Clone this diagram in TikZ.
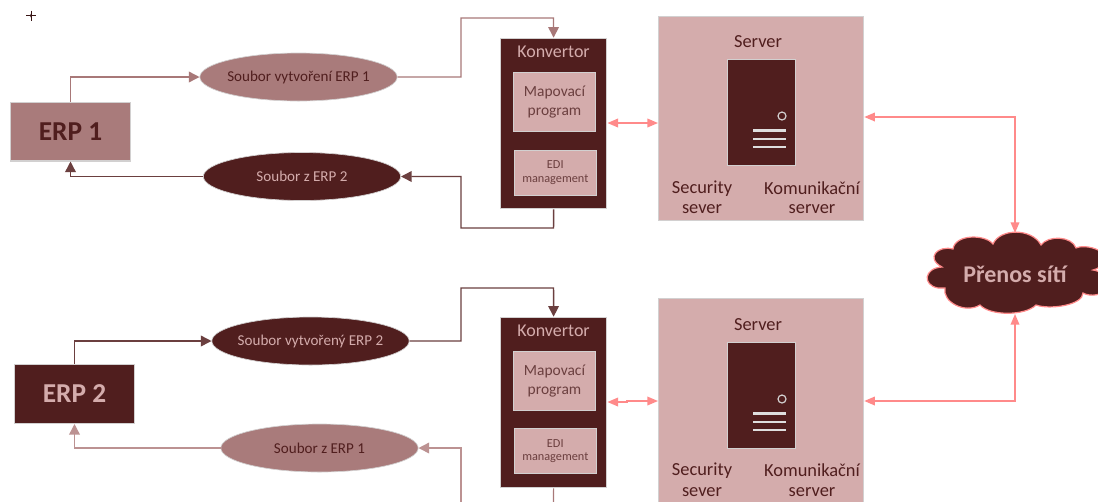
\documentclass[tikz,border=0pt]{standalone}
\usepackage{fontspec}
\setmainfont{Carlito}
\usetikzlibrary{arrows.meta,shapes.geometric}
\definecolor{dark}{HTML}{501E1E}
\definecolor{mid}{HTML}{A97B7B}
\definecolor{pale}{HTML}{D4ACAC}
\definecolor{edge}{HTML}{D2D0D0}
\definecolor{linkdark}{HTML}{6B3F3F}
\definecolor{linkmid}{HTML}{A87878}
\definecolor{linklight}{HTML}{BC9292}
\definecolor{pink}{HTML}{FF8A8A}
\tikzset{
  px/.style={x=0.75pt,y=-0.75pt},
  erpbox/.style={draw=edge,line width=1pt,rectangle,inner sep=0pt,minimum width=90pt,minimum height=44pt,font=\fontsize{20.5}{22}\selectfont\bfseries},
  fileell/.style={ellipse,draw=edge,line width=0.5pt,inner xsep=-30pt,inner ysep=0pt,minimum width=148pt,minimum height=36pt,font=\fontsize{11.3}{13}\selectfont},
  conv/.style={rectangle,fill=dark,draw=edge,line width=0.7pt,inner sep=0pt,minimum width=80pt},
  inner/.style={rectangle,fill=pale,draw=edge,line width=0.7pt,text=linkdark,inner sep=0pt,align=center},
  srv/.style={rectangle,fill=pale,draw=edge,line width=0.7pt,inner sep=0pt,minimum width=154pt},
  tower/.style={rectangle,fill=dark,draw=edge,line width=0.5pt,inner sep=0pt,minimum width=50.5pt},
  srvtxt/.style={text=dark,font=\fontsize{13.8}{15}\selectfont,inner sep=0pt,align=center},
  convtxt/.style={text=pale,font=\fontsize{13.5}{15}\selectfont,inner sep=0pt},
  maptxt/.style={font=\fontsize{11.6}{14}\selectfont},
  editxt/.style={font=\fontsize{9.2}{10}\selectfont},
  link/.style={line width=1.1pt,-{Triangle[length=8pt,width=8pt]}},
  biarrow/.style={pink,line width=1.1pt,{Triangle[length=8pt,width=6.5pt]}-{Triangle[length=8pt,width=6.5pt]}},
  led/.style={circle,draw=edge,line width=0.9pt,fill=dark,inner sep=0pt,minimum size=6pt},
  slot/.style={draw=edge!70!white,line width=2pt}
}
\begin{document}
\begin{tikzpicture}[px]
\useasboundingbox (0,0) rectangle (1098,501);
\clip (0,0) rectangle (1098,501);
\fill[white] (0,0) rectangle (1098,501);
% cursor mark
\draw[dark!70!black,line width=0.4pt] (26,15.5)--(36,15.5) (31,10.5)--(31,20.5);
\fill[dark!70!black] (31,13.5)--(32,15.5)--(31,17.5)--(30,15.5)--cycle;
% top row
\node[erpbox,fill=mid,text=dark] (erpa) at (70.5,131.5) {ERP 1};
\node[fileell,fill=mid,text=dark] (fa) at (298.5,77) {Soubor vytvoření ERP 1};
\node[fileell,fill=dark,text=pale] (fb) at (302,176.5) {Soubor z ERP 2};
\node[conv,minimum height=128pt,anchor=north west] (ka) at (499.8,37.7) {};
\node[convtxt] (kat) at (553.5,52) {Konvertor};
\node[inner,minimum width=62pt,minimum height=44pt,maptxt,anchor=north west] (ma) at (512.7,72) {Mapovací\\program};
\node[inner,minimum width=62pt,minimum height=34pt,editxt,anchor=north west] (ea) at (513.5,149.5) {EDI\\management};
\node[srv,minimum height=153pt,anchor=north west] (sa) at (658,15.7) {};
\node[srvtxt] (sat) at (758,41.5) {Server};
\node[tower,minimum height=79pt,anchor=north west] (ta) at (727.3,59.3) {};
\node[led] (la) at (782,116) {};
\draw[slot] (753,130.5)--(786,130.5) (753,139)--(786,139) (753,147)--(786,147);
\node[srvtxt] (saa) at (702,188.5) {Security};
\node[srvtxt] (sab) at (702,209) {sever};
\node[srvtxt] (sac) at (812,188.5) {Komunikační};
\node[srvtxt] (sad) at (812,209) {server};
% bottom row
\node[erpbox,fill=dark,text=pale] (erpb) at (74.5,394) {ERP 2};
\node[fileell,fill=dark,text=pale] (fc) at (310.5,341) {Soubor vytvořený ERP 2};
\node[fileell,fill=mid,text=dark] (fd) at (319.5,448) {Soubor z ERP 1};
\node[conv,minimum height=128pt,anchor=north west] (kb) at (499.8,316.7) {};
\node[convtxt] (kbt) at (553.5,331) {Konvertor};
\node[inner,minimum width=62pt,minimum height=44pt,maptxt,anchor=north west] (mb) at (512.7,351) {Mapovací\\program};
\node[inner,minimum width=62pt,minimum height=34pt,editxt,anchor=north west] (eb) at (513.5,428) {EDI\\management};
\node[srv,minimum height=160pt,anchor=north west] (sb) at (658,298.3) {};
\node[srvtxt] (sbt) at (758,324.5) {Server};
\node[tower,minimum height=80pt,anchor=north west] (tb) at (727.3,341.7) {};
\node[led] (lb) at (782,399) {};
\draw[slot] (753,413.5)--(786,413.5) (753,422)--(786,422) (753,430)--(786,430);
\node[srvtxt] (sba) at (702,470.5) {Security};
\node[srvtxt] (sbb) at (702,492.5) {sever};
\node[srvtxt] (sbc) at (812,470.5) {Komunikační};
\node[srvtxt] (sbd) at (812,492.5) {server};
% cloud
\fill[dark,draw=pink,line width=0.9pt]
 (942,267)
 .. controls (924,268) and (922,285) .. (938,288)
 -- (945,288)
 .. controls (942,302) and (965,314) .. (980,305)
 .. controls (990,316) and (1025,316) .. (1036,305)
 .. controls (1050,310) and (1083,305) .. (1083,293)
 .. controls (1090,297) and (1105,296) .. (1108,285)
 .. controls (1110,276) and (1100,271) .. (1093,270)
 .. controls (1105,268) and (1108,252) .. (1098,250)
 .. controls (1090,246) and (1080,246) .. (1076,248)
 .. controls (1072,236) and (1048,235) .. (1041,245)
 .. controls (1032,228) and (1000,228) .. (993,244)
 .. controls (985,234) and (955,234) .. (953,249)
 .. controls (938,245) and (925,258) .. (942,267)
 -- cycle;
\node[text=pale,font=\fontsize{18}{20}\selectfont\bfseries,inner sep=0pt] (net) at (1015,274) {Přenos sítí};
\coordinate (nettop) at (1015,233);
\coordinate (netbot) at (1015,314);
% connectors
\draw[link,linkmid] (erpa.north) |- (fa.west);
\draw[link,linkmid,line width=0.9pt] (fa.east) -- (461,77) |- (553.5,18) -- (ka.north);
\draw[link,linkdark] (ka.south) -- (553.5,228) -| (461,176.5) -- (fb.east);
\draw[link,linkdark] (fb.west) -| (erpa.south);
\draw[link,linkdark] (erpb.north) |- (fc.west);
\draw[link,linkdark] (fc.east) -- (461,341) |- (553.5,288) -- (kb.north);
\coordinate (offb) at (553.5,510);
\draw[linkmid,line width=0.9pt] (kb.south) -- (offb);
\coordinate (offc) at (461,510);
\draw[link,linklight] (offc) |- (fd.east);
\draw[link,linklight] (fd.west) -| (erpb.south);
\draw[biarrow] (ka.east |- 0,123) -- (sa.west |- 0,123);
\draw[biarrow] (kb.east |- 0,402) -- (627,402) -- (627,401) -- (sb.west |- 0,401);
\draw[biarrow] (sa.east |- 0,117) -| (nettop);
\draw[biarrow] (sb.east |- 0,401) -| (netbot);
\end{tikzpicture}
\end{document}
